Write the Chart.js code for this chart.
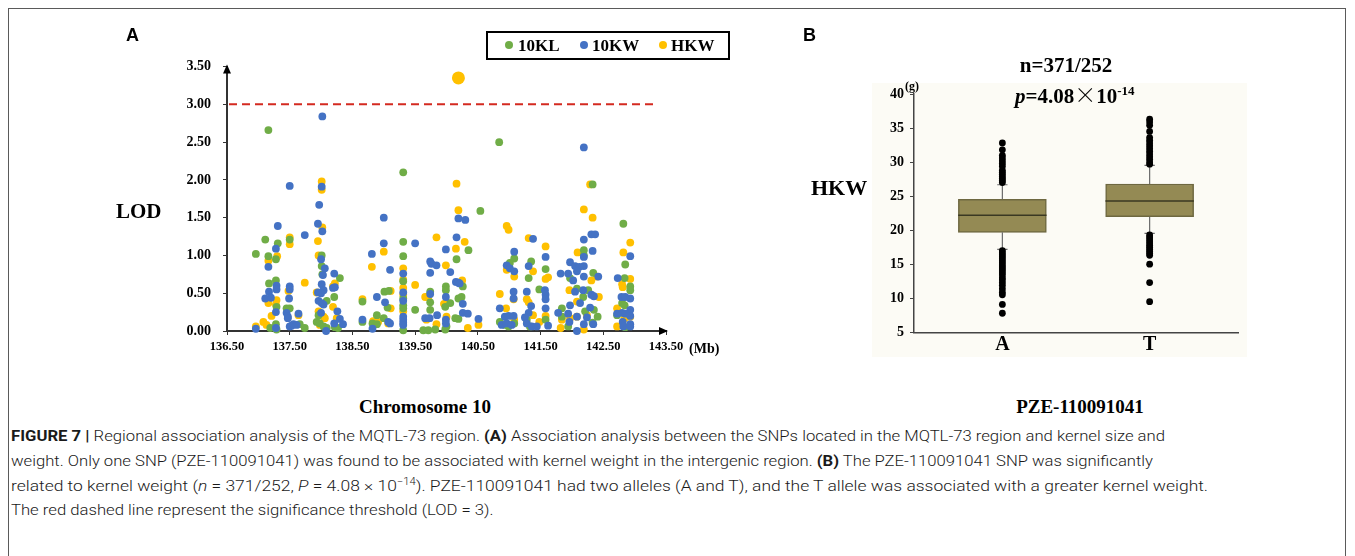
<!DOCTYPE html>
<html><head><meta charset="utf-8">
<script src="https://cdn.jsdelivr.net/npm/chart.js@4.4.0/dist/chart.umd.min.js"></script>
<style>
html,body{margin:0;padding:0;background:#fff;}
body{width:1355px;height:556px;position:relative;overflow:hidden;}
.abs{position:absolute;white-space:nowrap;line-height:1;}
.serif{font-family:"Liberation Serif","Times New Roman",serif;font-weight:bold;color:#000;}
.sans{font-family:"Liberation Sans",Arial,sans-serif;font-weight:bold;color:#000;}
.cap{position:absolute;white-space:nowrap;line-height:1;font-family:Roboto,"Liberation Sans",sans-serif;font-weight:300;font-size:15.5px;color:#1a1a1a;left:11px;transform-origin:0 50%;}
.cap b{font-weight:700;}
.dot{position:absolute;width:8px;height:8px;border-radius:50%;}
</style></head><body>
<div style="position:absolute;left:8px;top:8px;width:1338px;height:570px;border:1.5px solid #5a5a5a;box-sizing:border-box;"></div>
<div style="position:absolute;left:872px;top:83px;width:375px;height:274px;background:#fcfbf5"></div>
<canvas id="cA" style="position:absolute;left:0;top:0;width:780px;height:390px" width="780" height="390"></canvas>
<canvas id="cB" style="position:absolute;left:780px;top:0;width:575px;height:380px" width="575" height="380"></canvas>

<div class="abs sans" style="left:126px;top:26px;font-size:18px">A</div>
<div class="abs sans" style="left:803px;top:26px;font-size:18px">B</div>
<div class="abs serif" style="left:116px;top:201px;font-size:21px">LOD</div>
<div class="abs serif" style="left:689px;top:342px;font-size:14px">(Mb)</div>
<div class="abs" style="left:486px;top:31px;width:244px;height:29px;border:2.5px solid #000;box-sizing:border-box;"></div>
<div class="dot" style="left:505px;top:41px;background:#70ad47"></div>
<div class="abs serif" style="left:518px;top:37px;font-size:17px">10KL</div>
<div class="dot" style="left:580px;top:41px;background:#4472c4"></div>
<div class="abs serif" style="left:592px;top:37px;font-size:17px">10KW</div>
<div class="dot" style="left:659px;top:41px;background:#ffc000"></div>
<div class="abs serif" style="left:671px;top:37px;font-size:17px">HKW</div>
<div class="abs serif" style="left:425px;top:397px;font-size:19px;transform:translateX(-50%)">Chromosome 10</div>
<div class="abs serif" style="left:1080px;top:397px;font-size:19px;transform:translateX(-50%)">PZE-110091041</div>
<div class="abs serif" style="left:1066px;top:55px;font-size:21px;transform:translateX(-50%)">n=371/252</div>
<div class="abs serif" style="left:1015px;top:82px;font-size:21px"><i>p</i>=4.08<span style="font-family:'Noto Sans CJK SC',sans-serif;font-weight:300;font-size:22px">×</span>10<sup style="font-size:13px;vertical-align:8px;line-height:0">-14</sup></div>
<div class="abs serif" style="left:811px;top:177px;font-size:22px">HKW</div>
<div class="abs serif" style="left:905px;top:80px;font-size:12px">(g)</div>

<div class="cap" id="l1" style="top:429px"><b>FIGURE 7 |</b> Regional association analysis of the MQTL-73 region. <b>(A)</b> Association analysis between the SNPs located in the MQTL-73 region and kernel size and</div>
<div class="cap" id="l2" style="top:454px">weight. Only one SNP (PZE-110091041) was found to be associated with kernel weight in the intergenic region. <b>(B)</b> The PZE-110091041 SNP was significantly</div>
<div class="cap" id="l3" style="top:479px">related to kernel weight (<i>n</i> = 371/252, <i>P</i> = 4.08 × 10<sup style="font-size:10px;vertical-align:6px;line-height:0">−14</sup>). PZE-110091041 had two alleles (A and T), and the T allele was associated with a greater kernel weight.</div>
<div class="cap" id="l4" style="top:503px">The red dashed line represent the significance threshold (LOD = 3).</div>

<script>
// ---------- Panel A data: [position (Mb), LOD] ----------
const kl10 = [
 [137.16,2.66],[139.31,2.10],[140.84,2.50],[142.33,1.94],
 [136.96,1.02],[137.11,1.21],[137.16,0.99],[137.17,0.63],[137.19,0.04],[137.31,1.16],[137.28,0.95],[137.28,0.67],
 [137.29,0.32],[137.28,0.09],[137.29,0.02],[137.50,1.21],[137.45,0.30],[137.50,0.30],[137.66,0.09],[137.74,0.04],
 [138.01,1.00],[138.01,0.86],[138.02,0.75],[138.09,0.40],[137.96,0.21],[137.93,0.12],[137.98,0.10],[138.04,0.06],
 [138.09,0.04],[138.30,0.70],[138.21,0.45],[138.22,0.05],[138.27,0.04],[138.66,0.39],[138.66,0.12],[138.82,0.10],
 [138.89,0.09],[138.89,0.21],[139.01,0.52],[139.08,0.53],[139.06,0.31],[139.00,0.17],[139.31,1.18],[139.31,0.99],
 [139.31,0.66],[139.31,0.43],[139.31,0.34],[139.31,0.30],[139.31,0.01],[139.50,0.28],[139.74,0.52],[139.74,0.38],
 [139.74,0.28],[139.63,0.01],[139.71,0.01],[139.82,0.02],[139.99,0.59],[139.99,0.54],[139.98,0.32],[140.06,0.37],
 [140.00,0.06],[139.98,0.02],[140.16,0.95],[140.35,1.07],[140.26,0.59],[140.19,0.43],[140.24,0.45],[140.14,0.17],
 [140.19,0.16],[140.54,1.59],
 [141.08,0.96],[141.01,0.90],[140.85,0.12],[140.93,0.08],[140.99,0.06],[141.08,0.10],[141.35,0.92],[141.31,0.70],
 [141.48,0.55],[141.28,0.15],[141.33,0.06],[141.58,0.82],[141.58,0.15],[142.19,1.07],[142.19,1.00],[142.34,0.77],
 [141.97,0.70],[142.08,0.56],[142.26,0.54],[142.18,0.45],[141.84,0.30],[142.21,0.26],[142.35,0.28],[142.41,0.19],
 [141.94,0.06],[142.33,0.11],[141.84,0.19],[142.82,1.42],[142.85,0.88],[142.84,0.70],[142.93,0.59],[142.93,0.54],
 [142.80,0.37],[142.84,0.34],[142.72,0.21],[142.85,0.05]
];
const kw10 = [
 [138.02,2.84],[142.19,2.43],
 [136.96,0.03],[137.16,0.85],[137.17,0.52],[137.11,0.43],[137.20,0.44],[137.28,1.09],[137.31,1.39],[137.29,0.60],
 [137.29,0.55],[137.28,0.25],[137.28,0.04],[137.50,1.92],[137.50,0.59],[137.50,0.55],[137.49,0.43],[137.45,0.24],
 [137.47,0.19],[137.47,0.17],[137.50,0.06],[137.53,0.07],[137.56,0.09],[137.64,0.23],[137.61,0.08],[137.74,1.27],
 [138.01,1.91],[137.97,1.67],[137.95,1.42],[138.02,1.32],[138.00,0.95],[138.06,0.83],[138.03,0.74],[138.01,0.62],
 [138.04,0.54],[138.00,0.50],[137.95,0.51],[137.96,0.40],[138.01,0.37],[138.04,0.35],[138.00,0.24],[138.08,0.00],
 [138.21,0.76],[138.19,0.57],[138.22,0.58],[138.26,0.26],[138.21,0.10],[138.30,0.16],[138.35,0.09],[138.66,0.15],
 [138.81,1.02],[138.89,0.45],[138.82,0.03],[139.00,1.50],[139.00,1.16],[139.10,0.81],[139.02,0.38],[139.07,0.12],
 [139.10,0.10],[139.31,0.76],[139.31,0.51],[139.31,0.40],[139.31,0.19],[139.31,0.15],[139.31,0.11],[139.31,0.08],
 [139.50,1.16],[139.74,0.92],[139.76,0.89],[139.84,0.87],[139.74,0.77],[139.74,0.49],[139.66,0.17],[139.73,0.17],
 [139.85,0.21],[139.99,1.08],[140.06,0.78],[139.99,0.45],[139.99,0.15],[139.99,0.10],[140.19,1.49],[140.30,1.47],
 [140.16,1.24],[140.15,0.65],[140.19,0.64],[140.21,0.63],[140.26,0.36],[140.26,0.24],[140.34,0.23],[140.51,0.16],
 [141.08,1.05],[140.96,0.87],[141.01,0.83],[141.08,0.79],[141.07,0.52],[141.07,0.43],[140.85,0.30],[140.93,0.19],
 [140.99,0.20],[141.07,0.20],[140.88,0.08],[140.96,0.10],[141.04,0.08],[141.38,1.22],[141.31,0.86],[141.28,0.52],
 [141.35,0.33],[141.31,0.24],[141.25,0.18],[141.28,0.10],[141.36,0.06],[141.44,0.06],[141.58,0.98],[141.57,0.54],
 [141.58,0.48],[141.58,0.42],[141.58,0.30],[141.62,0.07],[142.19,1.21],[142.31,1.28],[142.37,1.28],[142.33,1.06],
 [142.19,0.98],[141.97,0.91],[142.19,0.86],[142.05,0.86],[142.12,0.85],[141.82,0.76],[141.94,0.76],[142.08,0.79],
 [142.19,0.72],[142.02,0.67],[142.42,0.72],[142.05,0.52],[142.18,0.54],[142.31,0.48],[142.35,0.46],[141.97,0.34],
 [142.13,0.37],[142.29,0.31],[141.78,0.24],[141.94,0.23],[142.24,0.18],[142.08,0.19],[141.96,0.12],[142.08,0.00],
 [142.19,0.09],[142.34,0.09],[142.73,0.70],[142.93,0.99],[142.79,0.45],[142.85,0.45],[142.93,0.43],[142.93,0.28],
 [142.72,0.23],[142.80,0.24],[142.85,0.23],[142.93,0.20],[142.81,0.12],[142.82,0.06],[142.93,0.09],[142.93,0.06]
];
const hkw = [
 [138.01,1.98],[138.01,1.87],[140.16,1.95],[142.29,1.94],
 [136.96,0.06],[137.16,0.93],[137.16,0.37],[137.08,0.12],[137.13,0.08],[137.21,0.20],[137.30,0.99],[137.29,0.41],
 [137.28,0.35],[137.50,1.24],[137.50,1.15],[137.48,0.53],[137.64,0.21],[137.74,0.64],[138.02,1.37],[137.95,1.19],
 [137.96,1.00],[137.93,0.51],[137.96,0.26],[138.04,0.19],[138.06,0.17],[137.98,0.08],[138.22,0.63],[138.19,0.59],
 [138.19,0.32],[138.25,0.17],[138.66,0.42],[138.81,0.85],[138.83,0.13],[138.91,0.12],[139.00,1.05],[139.11,0.53],
 [139.11,0.30],[139.07,0.10],[139.31,0.83],[139.31,0.68],[139.31,0.57],[139.31,0.48],[139.31,0.26],[139.50,0.61],
 [139.84,1.24],[139.66,0.45],[139.71,0.45],[139.68,0.15],[139.84,0.09],[139.99,0.87],[139.96,0.36],[140.00,0.38],
 [140.00,0.19],[140.19,1.60],[140.15,1.09],[140.29,1.18],[140.25,0.67],[140.34,0.04],[140.51,0.08],
 [140.96,1.39],[140.99,1.34],[140.96,0.81],[141.08,0.72],[140.85,0.49],[141.07,0.42],[140.95,0.30],[141.08,0.15],
 [141.31,1.23],[141.38,0.79],[141.28,0.42],[141.31,0.38],[141.38,0.21],[141.48,0.12],[141.58,1.12],[141.62,0.71],
 [141.58,0.69],[141.58,0.20],[142.19,1.61],[142.33,1.50],[142.09,1.04],[142.31,0.67],[142.40,0.72],[141.96,0.54],
 [142.43,0.45],[142.08,0.39],[142.24,0.21],[141.84,0.15],[141.97,0.17],[142.08,0.19],[142.19,0.02],[141.82,0.04],
 [142.93,1.17],[142.82,1.04],[142.93,0.69],[142.80,0.62],[142.81,0.58],[142.72,0.30],[142.93,0.19],[142.72,0.06],
 [142.84,0.17]
];
const hkwPeak = [[140.19,3.35]];
const threshold = 3.0;
const xTicksA = [136.5,137.5,138.5,139.5,140.5,141.5,142.5,143.5];

// ---------- Panel B data ----------
const alleles = ['A','T'];
const q1 = [19.68, 21.98];
const median = [22.18, 24.28];
const q3 = [24.53, 26.78];
const whiskLow = [17.19, 19.53];
const whiskHigh = [26.67, 29.52];
const outA = [32.8,31.8,31.0,30.6,30.2,29.8,29.4,28.8,28.5,28.2,27.9,27.6,27.3,27.0,
              17.0,16.7,16.4,16.1,15.8,15.5,15.2,14.9,14.6,14.3,14.0,13.7,13.4,13.0,12.7,12.3,11.9,11.4,10.9,10.5,9.1,7.8];
const outT = [36.3,35.9,35.4,34.5,33.6,33.2,32.8,32.4,32.0,31.6,31.2,30.8,30.4,30.0,29.7,
              19.3,19.0,18.7,18.4,18.1,17.8,17.5,17.2,16.9,16.6,16.3,15.0,12.3,9.5];

const GREEN='#70ad47', BLUE='#4472c4', YELLOW='#ffc000';
const serifB = {family:'"Liberation Serif","Times New Roman",serif', weight:'bold'};

const toPts = a => a.map(p => ({x:p[0], y:p[1]}));

// Arrow heads + threshold line plugin for panel A
const axisArrows = {
  id:'axisArrows',
  afterDraw(chart){
    const {ctx, scales:{x,y}} = chart;
    ctx.save();
    const ty = y.getPixelForValue(threshold);
    ctx.strokeStyle = '#d42a20'; ctx.lineWidth = 2; ctx.setLineDash([8,5]);
    ctx.beginPath(); ctx.moveTo(x.left+2, ty); ctx.lineTo(x.getPixelForValue(143.35), ty); ctx.stroke();
    ctx.setLineDash([]);
    ctx.fillStyle = '#000';
    const top = y.getPixelForValue(3.5), x0 = x.left;
    ctx.beginPath(); ctx.moveTo(x0, top-2); ctx.lineTo(x0-4, top+7); ctx.lineTo(x0+4, top+7); ctx.closePath(); ctx.fill();
    const right = x.getPixelForValue(143.5), y0 = y.bottom;
    ctx.beginPath(); ctx.moveTo(right+2, y0); ctx.lineTo(right-7, y0-4); ctx.lineTo(right-7, y0+4); ctx.closePath(); ctx.fill();
    ctx.restore();
  }
};

new Chart(document.getElementById('cA'), {
  type:'scatter',
  data:{datasets:[
    {label:'10KW', data:toPts(kw10), backgroundColor:BLUE, borderWidth:0, pointRadius:3.9, clip:false},
    {label:'10KL', data:toPts(kl10), backgroundColor:GREEN, borderWidth:0, pointRadius:3.9, clip:false},
    {label:'HKW', data:toPts(hkw), backgroundColor:YELLOW, borderWidth:0, pointRadius:3.9, clip:false},
    {label:'HKW peak', data:toPts(hkwPeak), backgroundColor:YELLOW, borderWidth:0, pointRadius:6.5, clip:false}
  ]},
  options:{
    responsive:false, animation:false, events:[],
    layout:{padding:{left:157, top:66.6, right:114, bottom:29}},
    plugins:{legend:{display:false}, tooltip:{enabled:false}},
    scales:{
      x:{type:'linear', min:136.5, max:143.5,
         afterBuildTicks: s => { s.ticks = xTicksA.map(v => ({value:v})); },
         afterFit: s => { s.height = 30; },
         ticks:{callback:v => v.toFixed(2), font:{...serifB, size:12.5}, color:'#000', padding:4, maxRotation:0, autoSkip:false},
         grid:{drawOnChartArea:false, drawTicks:true, tickLength:4, color:'#333', tickColor:'#333'},
         border:{display:true, color:'#333', width:2}},
      y:{min:0, max:3.5,
         afterFit: s => { s.width = 70; },
         ticks:{stepSize:0.5, callback:v => v.toFixed(2), font:{...serifB, size:14}, color:'#000', padding:12},
         grid:{drawOnChartArea:false, drawTicks:true, tickLength:4, color:'#333', tickColor:'#333'},
         border:{display:true, color:'#333', width:2}}
    }
  },
  plugins:[axisArrows]
});

// ---------- Panel B ----------
const HALF = 0.3, CAP = 0.035;
const medianPts = [], whiskerPts = [], boxPts = [], outPts = [];
alleles.forEach((a,i) => {
  const c = i+1;
  boxPts.push({x:c, y:[q1[i], q3[i]]});
  medianPts.push({x:c-HALF, y:median[i]}, {x:c+HALF, y:median[i]}, {x:c+0.5, y:null});
  whiskerPts.push({x:c, y:q3[i]}, {x:c, y:whiskHigh[i]}, {x:c+0.01, y:null},
                  {x:c-CAP, y:whiskHigh[i]}, {x:c+CAP, y:whiskHigh[i]}, {x:c+0.02, y:null},
                  {x:c, y:q1[i]}, {x:c, y:whiskLow[i]}, {x:c+0.03, y:null},
                  {x:c-CAP, y:whiskLow[i]}, {x:c+CAP, y:whiskLow[i]}, {x:c+0.04, y:null});
});
outA.forEach(v => outPts.push({x:1, y:v}));
outT.forEach(v => outPts.push({x:2, y:v}));

new Chart(document.getElementById('cB'), {
  type:'bar',
  data:{datasets:[
    {type:'line', data:medianPts, borderColor:'#3a3822', borderWidth:1.5, pointRadius:0, spanGaps:false, fill:false},
    {type:'scatter', data:outPts, backgroundColor:'#000', borderWidth:0, pointRadius:3.4, clip:false},
    {type:'line', data:whiskerPts, borderColor:'#6a6a6a', borderWidth:1.2, pointRadius:0, spanGaps:false, fill:false},
    {type:'bar', data:boxPts, backgroundColor:'#948a54', borderColor:'#6e6840', borderWidth:1.5, borderSkipped:false, barThickness:88}
  ]},
  options:{
    responsive:false, animation:false, events:[],
    layout:{padding:{left:94, top:94, right:117, bottom:17.7}},
    plugins:{legend:{display:false}, tooltip:{enabled:false}},
    scales:{
      x:{type:'linear', min:0.4, max:2.6, offset:false,
         afterBuildTicks: s => { s.ticks = alleles.map((a,i) => ({value:i+1})); },
         afterFit: s => { s.height = 30; },
         ticks:{callback:(v) => alleles[Math.round(v)-1] || '', font:{...serifB, size:20}, color:'#000', padding:1, autoSkip:false, maxRotation:0},
         grid:{display:true, drawOnChartArea:false, drawTicks:false},
         border:{display:true, color:'#444', width:1.5}},
      y:{min:5, max:40,
         afterFit: s => { s.width = 40; },
         ticks:{stepSize:5, font:{...serifB, size:14}, color:'#000', padding:6},
         grid:{drawOnChartArea:false, drawTicks:true, tickLength:4, color:'#444', tickColor:'#444'},
         border:{display:true, color:'#444', width:1.5}}
    }
  }
});

// fit the three full caption lines to their widths; the short last line uses the first line's scale
const capEnds = {l1:1165, l2:1153, l3:1208};
let s1 = 1;
Object.keys(capEnds).forEach(id => {
  const el = document.getElementById(id);
  const s = (capEnds[id]-11) / el.getBoundingClientRect().width;
  if (id === 'l1') s1 = s;
  el.style.transform = 'scaleX(' + s + ')';
});
document.getElementById('l4').style.transform = 'scaleX(' + s1 + ')';
</script>
</body></html>
